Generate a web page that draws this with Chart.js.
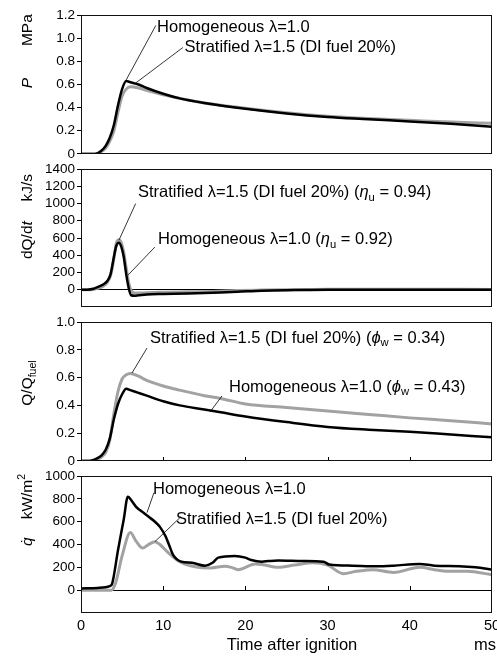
<!DOCTYPE html>
<html><head><meta charset="utf-8">
<script src="https://cdn.jsdelivr.net/npm/chart.js@4/dist/chart.umd.min.js"></script>
<style>
html,body{margin:0;padding:0;background:#fff;overflow:hidden;}
#wrap{position:relative;width:497px;height:657px;overflow:hidden;background:#fff;}
canvas{position:absolute;left:0;}
</style></head><body>
<div id="wrap">
<canvas id="c1"></canvas><canvas id="c2"></canvas><canvas id="c3"></canvas><canvas id="c4"></canvas>
</div>
<script>
const FONT = '"Liberation Sans", Arial, Helvetica, sans-serif';

// ---------- data ----------
const timeTickLabels = ['0','10','20','30','40','50'];

// Panel 1: pressure P (MPa)
const timeP  = [0,1,1.7,2.5,3,3.5,4,4.5,5,5.5,6,7,8,10,12,15,20,25,30,35,40,45,50];
const pHomog = [0,0,0,0.03,0.07,0.14,0.25,0.42,0.56,0.63,0.62,0.6,0.57,0.52,0.48,0.44,0.39,0.35,0.32,0.3,0.28,0.26,0.235];
const pStrat = [0,0,0,0.02,0.05,0.11,0.2,0.36,0.5,0.56,0.58,0.57,0.55,0.51,0.48,0.44,0.395,0.355,0.325,0.305,0.29,0.275,0.265];
const pTickLabels = ['0','0.2','0.4','0.6','0.8','1.0','1.2'];

// Panel 2: heat release rate dQ/dt (kJ/s)
const timeDQ  = [0,0.8,1.5,2,2.7,3.2,3.6,4,4.3,4.6,4.9,5.2,5.5,5.8,6.1,6.5,7,8,10,13,16,19,22,26,30,40,50];
const dqHomog = [0,0,10,30,60,100,180,380,510,545,500,380,180,20,-65,-70,-65,-55,-50,-45,-35,-25,-12,-5,0,0,0];
const dqStrat = [0,0,3,15,40,85,165,360,540,580,545,430,250,80,-10,-40,-40,-35,-30,-25,-20,-10,-5,0,5,5,3];
const dqTickLabels = [0,200,400,600,800,1000,1200,1400];

// Panel 3: cumulative heat release Q/Qfuel
const timeQ  = [0,1,2,2.5,3,3.5,4,4.5,5,5.5,6,7,8,10,12,15,17,20,25,30,35,40,45,50];
const qHomog = [0,0,0.02,0.04,0.08,0.16,0.3,0.41,0.48,0.52,0.51,0.49,0.47,0.43,0.4,0.37,0.35,0.32,0.28,0.245,0.225,0.21,0.19,0.17];
const qStrat = [0,0,0.01,0.03,0.06,0.15,0.34,0.5,0.59,0.62,0.63,0.61,0.58,0.54,0.51,0.47,0.45,0.41,0.385,0.36,0.335,0.31,0.29,0.266];
const qTickLabels = ['0','0.2','0.4','0.6','0.8','1.0'];

// Panel 4: wall heat flux q-dot (kW/m2)
const hfTimeH = [0,2,3.5,3.8,4.5,5.2,5.7,6.2,6.7,7.2,8.2,9,9.6,10.3,10.8,11.2,12.2,13.5,15.1,16,16.7,18.7,20,20.7,22,22.8,24,27,29.5,30.2,33,36,38,41.2,43,46,48,50];
const hfHomog = [15,20,35,60,350,620,820,780,730,700,645,600,555,470,380,310,250,240,215,240,285,300,285,265,250,255,260,255,250,225,215,210,215,230,215,210,200,180];
const hfTimeS = [0,3.7,4.2,5,6,6.7,7.5,8.2,9,9.6,10.6,12,13.9,15.8,17.5,18.3,19.1,21.2,22,24,26,28.2,30,31.9,33.5,35.5,38,41.2,43,44.5,47,50];
const hfStrat = [0,0,60,300,505,430,370,400,425,400,330,250,205,195,210,200,180,230,225,200,220,240,220,145,165,180,155,200,180,165,165,135];
const hfTickLabels = [0,200,400,600,800,1000];

const pts = (xs, ys) => xs.map((x, i) => ({x, y: ys[i]}));

// ---------- rich text helper ----------
function runFont(r, size) {
  const s = (r.sub || r.sup) ? size * 0.68 : size;
  return (r.it ? 'italic ' : '') + s + 'px ' + FONT;
}
function runsWidth(ctx, runs, size) {
  let w = 0;
  runs.forEach(r => { ctx.font = runFont(r, size); w += ctx.measureText(r.t).width; });
  return w;
}
function drawRuns(ctx, runs, x, y, size, align) {
  let cx = align === 'center' ? x - runsWidth(ctx, runs, size) / 2 : x;
  ctx.textBaseline = 'middle';
  ctx.textAlign = 'left';
  runs.forEach(r => {
    ctx.font = runFont(r, size);
    let dy = 0;
    if (r.sub) dy = size * 0.32;
    if (r.sup) dy = -size * 0.38;
    ctx.fillText(r.t, cx, y + dy);
    const w = ctx.measureText(r.t).width;
    if (r.dot) {
      ctx.save();
      ctx.font = size + 'px ' + FONT;
      ctx.textAlign = 'center';
      ctx.fillText('\u02D9', cx + w * 0.62, y - size * 0.02);
      ctx.restore();
    }
    cx += w;
  });
}

const ANN = 16.5;
const decor = {
  id: 'decor',
  afterDatasetsDraw(chart, args, o) {
    const {ctx, chartArea: a, scales: {x, y}} = chart;
    ctx.save();
    ctx.fillStyle = '#000';
    ctx.strokeStyle = '#000';
    // inner ticks
    if (o.innerTicks) {
      ctx.lineWidth = 1;
      const y0 = o.innerTicks === 'zero' ? Math.round(y.getPixelForValue(0)) : Math.round(a.bottom);
      [10,20,30,40].forEach(v => {
        const px = Math.round(x.getPixelForValue(v)) + 0.5;
        ctx.beginPath(); ctx.moveTo(px, y0); ctx.lineTo(px, y0 - 4); ctx.stroke();
      });
    }
    // frame
    ctx.lineWidth = 1;
    ctx.strokeStyle = '#111';
    ctx.strokeRect(Math.round(a.left) + 0.5, Math.round(a.top) + 0.5, Math.round(a.right - a.left) - 1, Math.round(a.bottom - a.top) - 1);
    // leader lines
    ctx.strokeStyle = '#000';
    ctx.lineWidth = 0.8;
    (o.leaders || []).forEach(l => {
      ctx.beginPath();
      ctx.moveTo(x.getPixelForValue(l[0]), y.getPixelForValue(l[1]));
      ctx.lineTo(x.getPixelForValue(l[2]), y.getPixelForValue(l[3]));
      ctx.stroke();
    });
    // annotations
    (o.labels || []).forEach(l => {
      drawRuns(ctx, l.runs, x.getPixelForValue(l.x), y.getPixelForValue(l.y), ANN, 'left');
    });
    // y titles (rotated)
    (o.yTitles || []).forEach(t => {
      ctx.save();
      ctx.translate(28, y.getPixelForValue(t.y));
      ctx.rotate(-Math.PI / 2);
      drawRuns(ctx, t.runs, 0, 0, 15.5, 'center');
      ctx.restore();
    });
    // pixel texts
    (o.texts || []).forEach(t => {
      drawRuns(ctx, t.runs, t.px, t.py, ANN, 'center');
    });
    ctx.restore();
  }
};

function makeChart(id, top, height, cfg) {
  const cv = document.getElementById(id);
  cv.width = 520; cv.height = height;
  cv.style.width = '520px'; cv.style.height = height + 'px';
  cv.style.top = top + 'px';
  const showX = !!cfg.showX;
  return new Chart(cv, {
    type: 'line',
    data: { datasets: [
      { data: cfg.black, borderColor: '#000', borderWidth: 2.5, pointRadius: 0, cubicInterpolationMode: 'monotone', fill: false },
      { data: cfg.gray, borderColor: '#a2a2a2', borderWidth: 3, pointRadius: 0, cubicInterpolationMode: 'monotone', fill: false }
    ]},
    options: {
      responsive: false, maintainAspectRatio: false, animation: false, devicePixelRatio: 1,
      layout: { padding: { top: 10, bottom: showX ? 0 : 10, left: 0, right: 28 } },
      plugins: { legend: { display: false }, tooltip: { enabled: false }, decor: cfg.decor },
      scales: {
        x: {
          type: 'linear', min: 0, max: 50, display: showX,
          border: { display: false },
          grid: { drawOnChartArea: false, drawTicks: false },
          ticks: { stepSize: 10, padding: 4, color: '#000', font: { family: FONT, size: 14.5 }, maxRotation: 0,
                   callback: (v) => timeTickLabels[timeTickLabels.indexOf(String(v))] ?? null },
          afterFit: s => { s.height = showX ? 44 : 0; }
        },
        y: {
          min: cfg.min, max: cfg.max,
          border: { display: false },
          grid: { drawOnChartArea: !!cfg.zeroLine, drawTicks: true, tickLength: 4, tickColor: '#000',
                  color: c => (cfg.zeroLine && c.tick && c.tick.value === 0) ? '#000' : 'rgba(0,0,0,0)', lineWidth: 1 },
          ticks: { stepSize: cfg.step, autoSkip: false, padding: 2, color: '#000', font: { family: FONT, size: 13.5 }, callback: cfg.tickCb },
          afterFit: s => { s.width = 81; }
        }
      }
    },
    plugins: [decor]
  });
}

const L = 'λ';
makeChart('c1', 5, 159, {
  black: pts(timeP, pHomog), gray: pts(timeP, pStrat),
  min: 0, max: 1.2, step: 0.2,
  tickCb: (v, i) => pTickLabels[i],
  decor: {
    leaders: [[9.1, 1.11, 5.5, 0.64], [12.4, 0.92, 6.6, 0.61]],
    labels: [
      { x: 9.25, y: 1.097, runs: [{t: 'Homogeneous ' + L + '=1.0'}] },
      { x: 12.6, y: 0.917, runs: [{t: 'Stratified ' + L + '=1.5 (DI fuel 20%)'}] }
    ],
    yTitles: [ { y: 1.07, runs: [{t: 'MPa'}] }, { y: 0.613, runs: [{t: 'P', it: true}] } ]
  }
});

makeChart('c2', 159, 158, {
  black: pts(timeDQ, dqHomog), gray: pts(timeDQ, dqStrat),
  min: -200, max: 1400, step: 200, zeroLine: true,
  tickCb: (v) => dqTickLabels.includes(v) ? String(v) : null,
  decor: {
    leaders: [[6.65, 1000, 4.62, 575], [8.98, 494, 5.75, 172]],
    labels: [
      { x: 6.93, y: 1126, runs: [{t: 'Stratified ' + L + '=1.5 (DI fuel 20%) ('}, {t: 'η', it: true}, {t: 'u', sub: true}, {t: ' = 0.94)'}] },
      { x: 9.37, y: 586, runs: [{t: 'Homogeneous ' + L + '=1.0 ('}, {t: 'η', it: true}, {t: 'u', sub: true}, {t: ' = 0.92)'}] }
    ],
    yTitles: [ { y: 1184, runs: [{t: 'kJ/s'}] }, { y: 575, runs: [{t: 'dQ/d'}, {t: 't', it: true}] } ]
  }
});

makeChart('c3', 312, 159, {
  black: pts(timeQ, qHomog), gray: pts(timeQ, qStrat),
  min: 0, max: 1.0, step: 0.2,
  tickCb: (v, i) => qTickLabels[i],
  decor: {
    innerTicks: 'bottom',
    leaders: [[8.03, 0.813, 6.2, 0.633], [17.15, 0.468, 15.7, 0.353]],
    labels: [
      { x: 8.39, y: 0.885, runs: [{t: 'Stratified ' + L + '=1.5 (DI fuel 20%) ('}, {t: 'ϕ', it: true}, {t: 'w', sub: true}, {t: ' = 0.34)'}] },
      { x: 18.0, y: 0.532, runs: [{t: 'Homogeneous ' + L + '=1.0 ('}, {t: 'ϕ', it: true}, {t: 'w', sub: true}, {t: ' = 0.43)'}] }
    ],
    yTitles: [ { y: 0.561, runs: [{t: 'Q/Q'}, {t: 'fuel', sub: true}] } ]
  }
});

makeChart('c4', 466, 191, {
  black: pts(hfTimeH, hfHomog), gray: pts(hfTimeS, hfStrat),
  min: -200, max: 1000, step: 200, zeroLine: true, showX: true,
  tickCb: (v) => hfTickLabels.includes(v) ? String(v) : null,
  decor: {
    innerTicks: 'zero',
    leaders: [[8.88, 855, 8.03, 680], [12.17, 645, 9.0, 426]],
    labels: [
      { x: 8.76, y: 881, runs: [{t: 'Homogeneous ' + L + '=1.0'}] },
      { x: 11.56, y: 618, runs: [{t: 'Stratified ' + L + '=1.5 (DI fuel 20%)'}] }
    ],
    yTitles: [ { y: 820, runs: [{t: 'kW/m'}, {t: '2', sup: true}] }, { y: 426, runs: [{t: 'q', it: true, dot: true}] } ],
    texts: [ { px: 292, py: 179, runs: [{t: 'Time after ignition'}] }, { px: 485, py: 179, runs: [{t: 'ms'}] } ]
  }
});
</script>
</body></html>
